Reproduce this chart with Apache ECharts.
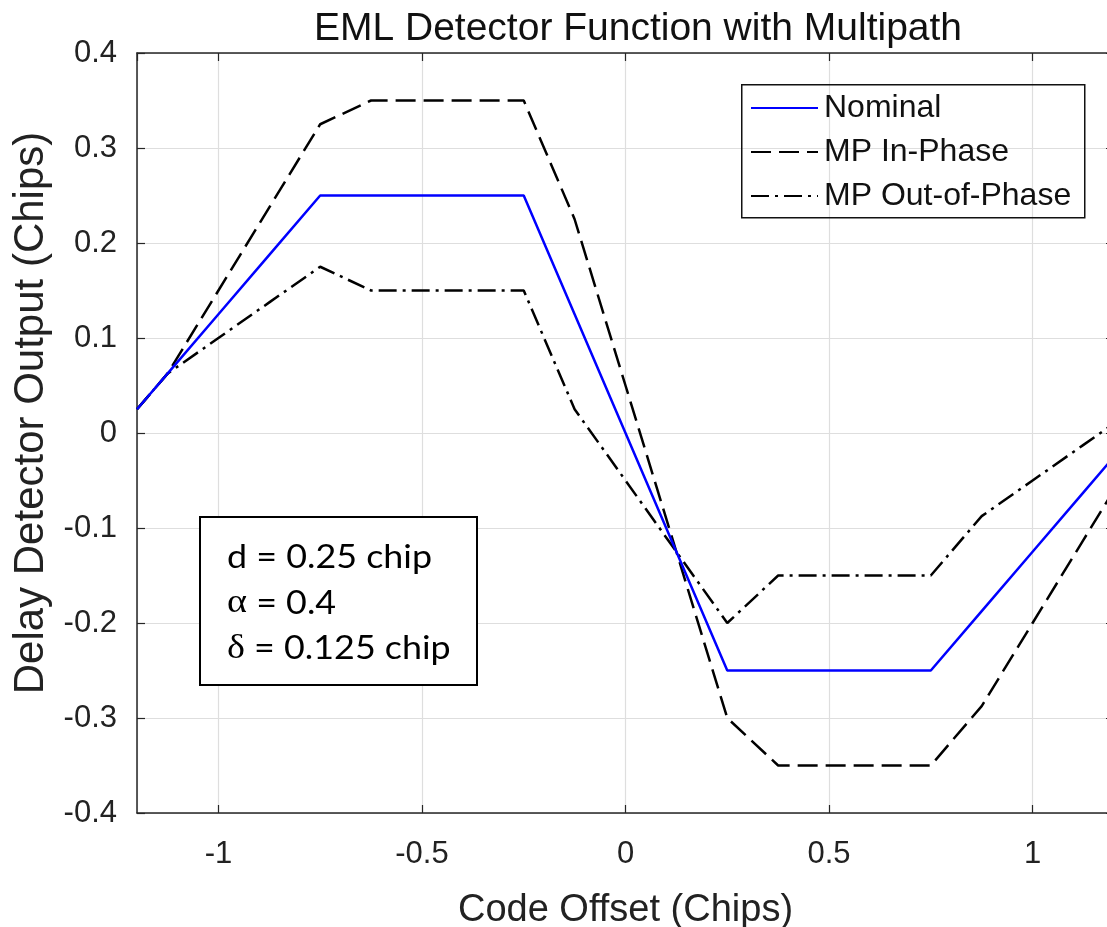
<!DOCTYPE html>
<html><head><meta charset="utf-8">
<script src="https://cdn.jsdelivr.net/npm/echarts@6/dist/echarts.min.js"></script>
<style>html,body{margin:0;padding:0;background:#fff}#c{width:1107px;height:927px}</style>
</head><body><div id="c"></div>
<script>
const codeOffset = [-1.2, -1.125, -1, -0.875, -0.75, -0.625, -0.5, -0.375, -0.25, -0.125, 0, 0.125, 0.25, 0.375, 0.5, 0.625, 0.75, 0.875, 1, 1.125, 1.2];
const nominal = [0.025, 0.0625, 0.125, 0.1875, 0.25, 0.25, 0.25, 0.25, 0.25, 0.125, 0, -0.125, -0.25, -0.25, -0.25, -0.25, -0.25, -0.1875, -0.125, -0.0625, -0.025];
const mpInPhase = [0.025, 0.0625, 0.15, 0.2375, 0.325, 0.35, 0.35, 0.35, 0.35, 0.225, 0.05, -0.125, -0.3, -0.35, -0.35, -0.35, -0.35, -0.2875, -0.2, -0.1125, -0.06];
const mpOutOfPhase = [0.025, 0.0625, 0.1, 0.1375, 0.175, 0.15, 0.15, 0.15, 0.15, 0.025, -0.05, -0.125, -0.2, -0.15, -0.15, -0.15, -0.15, -0.0875, -0.05, -0.0125, 0.01];
const seriesNames = ['Nominal', 'MP In-Phase', 'MP Out-of-Phase'];
const chartTitle = 'EML Detector Function with Multipath';
const xTitle = 'Code Offset (Chips)';
const yTitle = 'Delay Detector Output (Chips)';
const infoLines = ['d = 0.25 chip', '{g|\u03b1} = 0.4', '{g|\u03b4} = 0.125 chip'];

const FONT = '"Liberation Sans", Arial, Helvetica, sans-serif';
const pairs = ys => codeOffset.map((x, i) => [x, ys[i]]);
const axisCol = '#262626';
const gridCol = '#dedede';

const chart = echarts.init(document.getElementById('c'), null, {renderer: 'canvas'});
const xBase = {
  type: 'value', min: -1.2, max: 1.2, splitNumber: 5,
  axisLine: {show: true, onZero: false, lineStyle: {color: axisCol, width: 1.5}},
  axisTick: {show: true, inside: true, length: 8, lineStyle: {color: axisCol, width: 1.2}},
};
const yBase = {
  type: 'value', min: -0.4, max: 0.4, interval: 0.1,
  axisLine: {show: true, onZero: false, lineStyle: {color: axisCol, width: 1.5}},
  axisTick: {show: true, inside: true, length: 8, lineStyle: {color: axisCol, width: 1.2}},
};
chart.setOption({
  animation: false,
  backgroundColor: '#fff',
  title: {
    text: chartTitle, left: 633, top: 5, textAlign: 'center',
    textStyle: {fontFamily: FONT, fontSize: 39, fontWeight: 'normal', color: '#111'}
  },
  grid: {left: 137, right: -7, top: 53, bottom: 114, containLabel: false, outerBoundsMode: 'none'},
  legend: {
    data: seriesNames, orient: 'vertical', left: 750, top: 90, padding: 0,
    itemWidth: 67, itemHeight: 14, itemGap: 8,
    itemStyle: {opacity: 0, borderWidth: 0},
    textStyle: {fontFamily: FONT, fontSize: 32, color: '#111', lineHeight: 36, padding: [0, 0, 0, 1]},
    selectedMode: false
  },
  xAxis: [
    Object.assign({}, xBase, {
      position: 'bottom',
      axisLabel: {show: true, margin: 26, fontFamily: FONT, fontSize: 31, color: '#222', showMinLabel: false, showMaxLabel: false},
      splitLine: {show: true, lineStyle: {color: gridCol, width: 1.2}},
      name: xTitle, nameLocation: 'middle', nameGap: 79,
      nameTextStyle: {fontFamily: FONT, fontSize: 38, color: '#222'}
    }),
    Object.assign({}, xBase, {position: 'top', axisLabel: {show: false}, splitLine: {show: false}})
  ],
  yAxis: [
    Object.assign({}, yBase, {
      position: 'left',
      axisLabel: {show: true, margin: 20, fontFamily: FONT, fontSize: 31, color: '#222'},
      splitLine: {show: true, lineStyle: {color: gridCol, width: 1.2}}
    }),
    Object.assign({}, yBase, {position: 'right', axisLabel: {show: false}, splitLine: {show: false}})
  ],
  series: [
    {name: seriesNames[0], type: 'line', data: pairs(nominal), symbol: 'none', z: 5,
     lineStyle: {color: '#0000ff', width: 2.5}, itemStyle: {color: '#0000ff'}},
    {name: seriesNames[1], type: 'line', data: pairs(mpInPhase), symbol: 'none', z: 4,
     lineStyle: {color: '#000', width: 2.5, type: [20, 8]}, itemStyle: {color: '#000'}},
    {name: seriesNames[2], type: 'line', data: pairs(mpOutOfPhase), symbol: 'none', z: 4,
     lineStyle: {color: '#000', width: 2.5, type: [18, 6, 3, 6]}, itemStyle: {color: '#000'}}
  ],
  graphic: [
    {type: 'rect', left: 741, top: 84, z: 10, silent: true,
     shape: {width: 343, height: 133}, style: {fill: 'rgba(255,255,255,0)', stroke: '#111', lineWidth: 1.5}},
    {type: 'rect', x: 200, y: 517, z: 10, silent: true,
     shape: {width: 277, height: 168}, style: {fill: '#fff', stroke: '#000', lineWidth: 2}},
    {type: 'text', x: 227, y: 535, z: 11, scaleX: 1.12, silent: true,
     style: {
       text: infoLines.join('\n'), fontFamily: 'Lato, "Open Sans", sans-serif', fontSize: 32,
       lineHeight: 45.5, fill: '#000',
       rich: {g: {fontFamily: '"Liberation Serif", "DejaVu Serif", serif', fontSize: 34, lineHeight: 45.5}}
     }},
    {type: 'text', x: 31, y: 413, rotation: Math.PI / 2, z: 11, silent: true,
     style: {text: yTitle, fontFamily: FONT, fontSize: 42, fill: '#222', align: 'center', verticalAlign: 'middle'}}
  ]
});
</script></body></html>
